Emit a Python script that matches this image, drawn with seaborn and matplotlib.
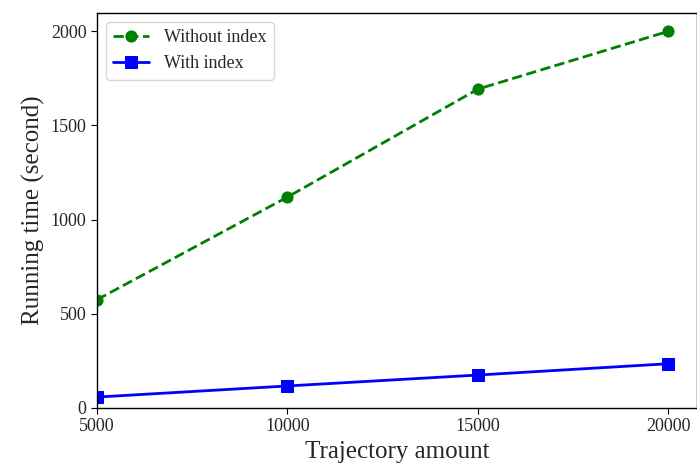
import matplotlib
matplotlib.use("Agg")
import matplotlib.pyplot as plt
import seaborn as sns

# data
trajectory_amount = [5000, 10000, 15000, 20000]
without_index = [575, 1120, 1693, 2000]
with_index = [58, 117, 175, 235]

sns.set_style("ticks")
plt.rcParams["font.family"] = ["Liberation Serif", "DejaVu Serif"]

fig = plt.figure(figsize=(6.97, 4.68), dpi=100)
ax = fig.add_axes([97 / 697, 1 - 408 / 468, 600 / 697, 395 / 468])

sns.lineplot(x=trajectory_amount, y=without_index, ax=ax, color="green",
             linestyle="--", linewidth=2, marker="o", markersize=8,
             markeredgecolor="green", label="Without index")
sns.lineplot(x=trajectory_amount, y=with_index, ax=ax, color="blue",
             linestyle="-", linewidth=2, marker="s", markersize=8,
             markeredgecolor="blue", label="With index")

ax.set_xlim(5000, 20750)
ax.set_ylim(0, 2097)
ax.set_xticks([5000, 10000, 15000, 20000])
ax.set_yticks([0, 500, 1000, 1500, 2000])
ax.tick_params(labelsize=13, direction="out", length=4, color="black")
for s in ax.spines.values():
    s.set_color("black")
    s.set_linewidth(1)
ax.set_xlabel("Trajectory amount", fontsize=18)
ax.set_ylabel("Running time (second)", fontsize=18)
ax.legend(loc="upper left", fontsize=13)

fig.savefig("out.png", dpi=100)
